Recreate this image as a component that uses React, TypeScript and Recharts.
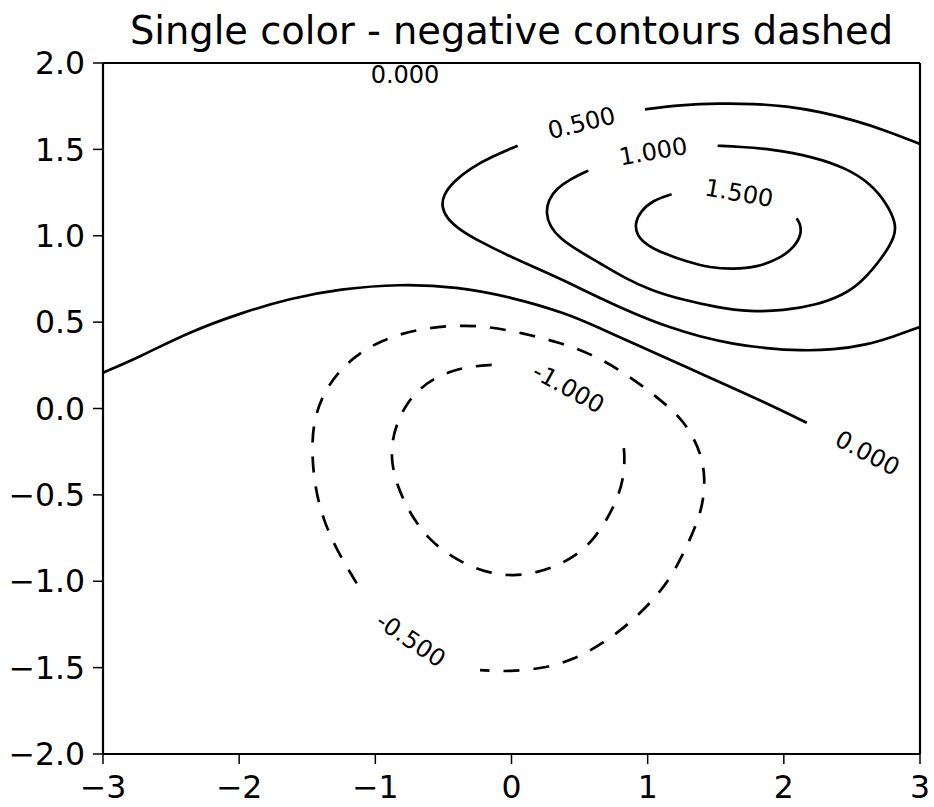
import {
  ComposedChart,
  Line,
  Scatter,
  XAxis,
  YAxis,
} from "recharts";

// contour paths, [x, y] in data units
const zeroMain = [
  [-3.0, 0.207], [-2.728, 0.3], [-2.361, 0.445], [-1.994, 0.551], [-1.627, 0.638],
  [-1.26, 0.692], [-0.819, 0.721], [-0.403, 0.705], [-0.011, 0.647], [0.405, 0.551],
  [0.65, 0.464], [0.894, 0.377], [1.14, 0.291], [1.384, 0.204], [1.629, 0.117],
  [1.874, 0.03], [2.168, -0.082],
];

const halfTop = [
  [0.98, 1.732], [1.237, 1.757], [1.531, 1.767], [1.776, 1.764], [2.021, 1.751],
  [2.265, 1.718], [2.51, 1.67], [2.755, 1.608], [3.0, 1.531],
];

const halfLoop = [
  [0.045, 1.521], [-0.134, 1.462], [-0.305, 1.39], [-0.427, 1.313], [-0.501, 1.236],
  [-0.513, 1.168], [-0.476, 1.101], [-0.378, 1.033], [-0.231, 0.966], [-0.035, 0.889],
  [0.185, 0.812], [0.43, 0.725], [0.65, 0.638], [0.894, 0.551], [1.14, 0.474],
  [1.384, 0.416], [1.629, 0.373], [1.874, 0.348], [2.119, 0.335], [2.363, 0.339],
  [2.608, 0.368], [2.804, 0.416], [3.0, 0.472],
];

const oneLoop = [
  [0.564, 1.377], [0.43, 1.327], [0.332, 1.275], [0.27, 1.207], [0.253, 1.13],
  [0.283, 1.052], [0.356, 0.985], [0.479, 0.918], [0.65, 0.841], [0.833, 0.755],
  [1.017, 0.686], [1.262, 0.628], [1.507, 0.586], [1.751, 0.56], [1.996, 0.566],
  [2.241, 0.599], [2.437, 0.657], [2.574, 0.732], [2.73, 0.879], [2.816, 0.995],
  [2.824, 1.072], [2.755, 1.188], [2.633, 1.304], [2.462, 1.39], [2.216, 1.458],
  [1.898, 1.502], [1.678, 1.515], [1.514, 1.521],
];

const onePointFive = [
  [1.176, 1.24], [1.041, 1.207], [0.944, 1.139], [0.907, 1.072], [0.919, 1.004],
  [0.993, 0.946], [1.115, 0.898], [1.287, 0.85], [1.458, 0.815], [1.629, 0.806],
  [1.801, 0.817], [1.972, 0.869], [2.082, 0.937], [2.131, 1.014], [2.119, 1.072],
  [2.094, 1.101],
];

const negHalf = [
  [-1.137, -1.012], [-1.284, -0.819], [-1.382, -0.645], [-1.443, -0.46], [-1.467, -0.259],
  [-1.456, -0.086], [-1.394, 0.068], [-1.284, 0.204], [-1.113, 0.329], [-0.892, 0.416],
  [-0.648, 0.464], [-0.403, 0.483], [-0.158, 0.474], [0.087, 0.435], [0.332, 0.387],
  [0.576, 0.32], [0.821, 0.213], [1.066, 0.068], [1.237, -0.047], [1.335, -0.163],
  [1.397, -0.279], [1.421, -0.402], [1.409, -0.53], [1.372, -0.645], [1.287, -0.8],
  [1.188, -0.954], [1.066, -1.089], [0.87, -1.243], [0.674, -1.359], [0.454, -1.456],
  [0.234, -1.504], [-0.011, -1.524], [-0.231, -1.514],
];

const negOne = [
  [-0.145, 0.252], [-0.268, 0.246], [-0.403, 0.227], [-0.549, 0.184], [-0.672, 0.117],
  [-0.77, 0.03], [-0.843, -0.086], [-0.88, -0.201], [-0.88, -0.317], [-0.841, -0.443],
  [-0.77, -0.568], [-0.696, -0.665], [-0.599, -0.761], [-0.476, -0.838], [-0.329, -0.906],
  [-0.158, -0.954], [0.013, -0.97], [0.185, -0.95], [0.332, -0.912], [0.479, -0.848],
  [0.601, -0.761], [0.699, -0.645], [0.773, -0.53], [0.821, -0.414], [0.833, -0.279],
  [0.821, -0.201], [0.804, -0.153],
];

// inline contour labels
const labelText = ["0.000", "0.500", "1.000", "1.500", "-1.000", "-0.500", "0.000"];
const labelX = [-0.782, 0.515, 1.041, 1.671, 0.417, -0.74, 2.613];
const labelY = [1.931, 1.651, 1.487, 1.246, 0.117, -1.34, -0.259];
const labelAngle = [0, -14, -10, 10, 29, 34, 28];

const xTicks = [-3, -2, -1, 0, 1, 2, 3];
const yTicks = [-2, -1.5, -1, -0.5, 0, 0.5, 1, 1.5, 2];

const contours = [
  { id: "zeroMain", pts: zeroMain, dashed: false },
  { id: "halfTop", pts: halfTop, dashed: false },
  { id: "halfLoop", pts: halfLoop, dashed: false },
  { id: "oneLoop", pts: oneLoop, dashed: false },
  { id: "onePointFive", pts: onePointFive, dashed: false },
  { id: "negHalf", pts: negHalf, dashed: true },
  { id: "negOne", pts: negOne, dashed: true },
];

const labels = labelText.map((text, i) => ({
  x: labelX[i],
  y: labelY[i],
  text,
  angle: labelAngle[i],
}));

const toPts = (pairs: number[][]) => pairs.map(([x, y]) => ({ x, y }));
const minus = (s: string) => s.replace("-", "\u2212");

const tickStyle = { fontSize: 31.5, fill: "#000" };
const axisLine = { stroke: "#000", strokeWidth: 2.2 };
const tickLine = { stroke: "#000", strokeWidth: 1.5 };

const ContourLabel = (props: any) => {
  const { cx, cy, payload } = props;
  return (
    <text
      x={cx}
      y={cy}
      transform={`rotate(${payload.angle} ${cx} ${cy})`}
      textAnchor="middle"
      dominantBaseline="central"
      fontSize={24}
      fill="#000"
    >
      {payload.text}
    </text>
  );
};

export default function App() {
  return (
    <div
      style={{
        position: "absolute",
        left: 0,
        top: 0,
        width: 934,
        height: 807,
        background: "#fff",
        fontFamily: "'DejaVu Sans', sans-serif",
      }}
    >
      <div
        style={{
          position: "absolute",
          left: 103,
          width: 817,
          top: 12,
          textAlign: "center",
          fontSize: 38.4,
          lineHeight: 1,
          color: "#000",
          whiteSpace: "nowrap",
        }}
      >
        Single color - negative contours dashed
      </div>
      <ComposedChart
        width={934}
        height={807}
        margin={{ top: 0, right: 0, bottom: 0, left: 0 }}
      >
        <XAxis
          dataKey="x"
          type="number"
          domain={[-3, 3]}
          ticks={xTicks}
          allowDataOverflow
          height={53}
          tickSize={10}
          tickMargin={12}
          tick={tickStyle}
          axisLine={axisLine}
          tickLine={tickLine}
          tickFormatter={(v: number) => minus(String(v))}
        />
        <XAxis
          xAxisId="top"
          orientation="top"
          type="number"
          domain={[-3, 3]}
          ticks={xTicks}
          height={63}
          tickSize={10}
          axisLine={axisLine}
          tickLine={tickLine}
          tickFormatter={() => ""}
        />
        <YAxis
          dataKey="y"
          type="number"
          domain={[-2, 2]}
          ticks={yTicks}
          allowDataOverflow
          width={103}
          tickSize={10}
          tickMargin={8}
          tick={tickStyle}
          axisLine={axisLine}
          tickLine={tickLine}
          tickFormatter={(v: number) => minus(v.toFixed(1))}
        />
        <YAxis
          yAxisId="right"
          orientation="right"
          type="number"
          domain={[-2, 2]}
          ticks={yTicks}
          width={14}
          tickSize={10}
          axisLine={axisLine}
          tickLine={tickLine}
          tickFormatter={() => ""}
        />
        {contours.map((c) => (
          <Line
            key={c.id}
            data={toPts(c.pts)}
            dataKey="y"
            type="basis"
            dot={false}
            activeDot={false}
            stroke="#000"
            strokeWidth={2.7}
            strokeDasharray={c.dashed ? "16 14" : undefined}
            isAnimationActive={false}
          />
        ))}
        <Scatter
          data={labels}
          dataKey="y"
          shape={ContourLabel}
          isAnimationActive={false}
        />
      </ComposedChart>
    </div>
  );
}
